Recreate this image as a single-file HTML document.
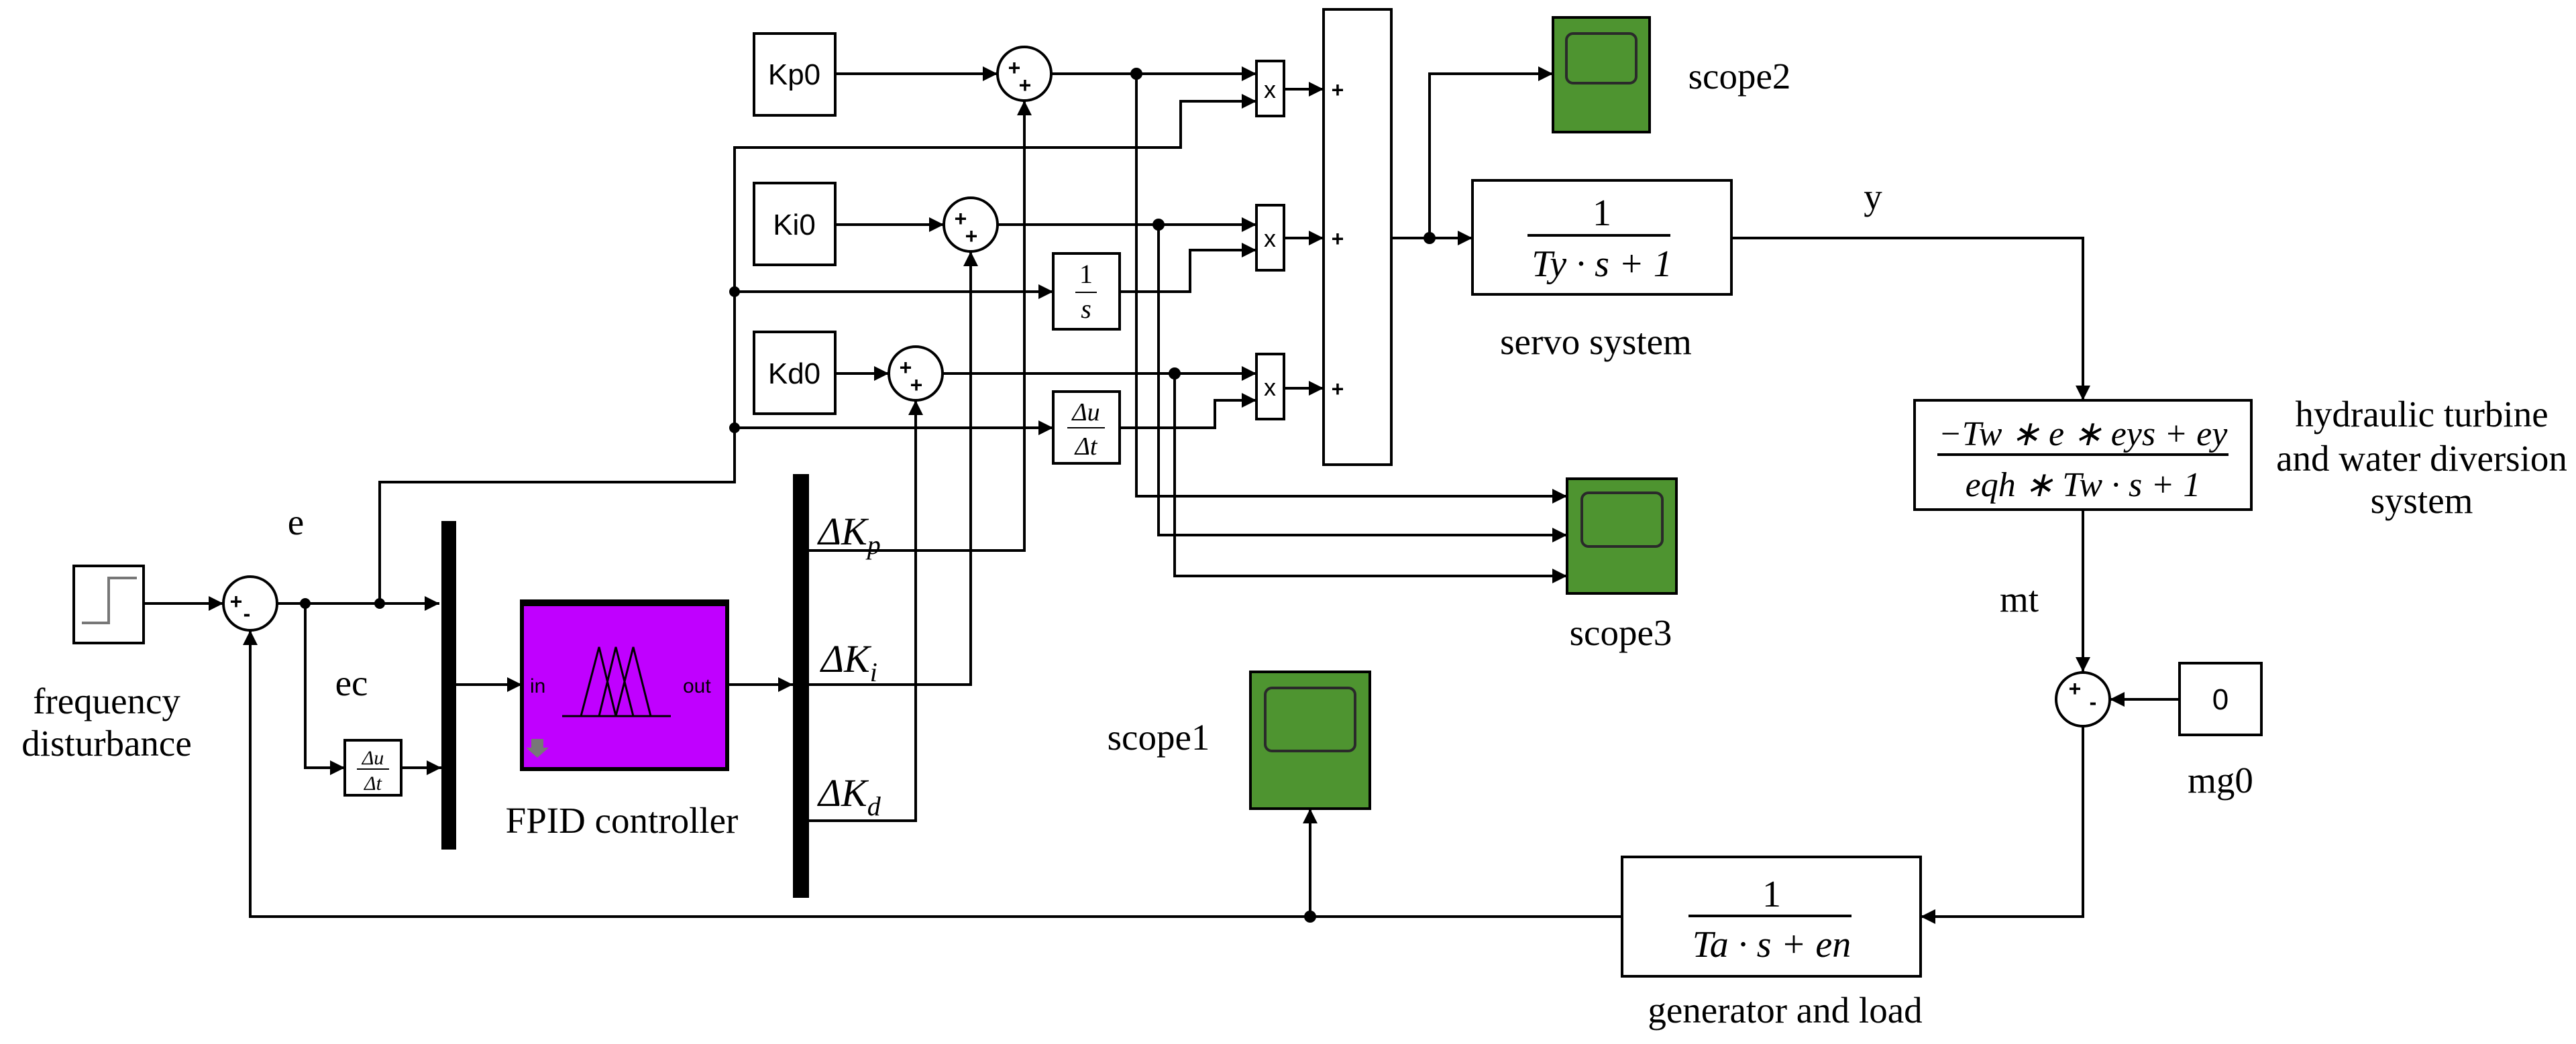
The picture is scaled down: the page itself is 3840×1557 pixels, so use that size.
<!DOCTYPE html>
<html><head><meta charset="utf-8"><style>
html,body{margin:0;padding:0;background:#fff;}
svg{display:block;}
.t{font-family:"Liberation Serif",serif;font-size:55px;fill:#000;}
.s{font-family:"Liberation Sans",sans-serif;fill:#000;}
.m{font-family:"Liberation Serif",serif;font-style:italic;fill:#000;}
</style></head><body>
<svg width="3840" height="1557" viewBox="0 0 3840 1557" xmlns="http://www.w3.org/2000/svg">
<g stroke="#000" stroke-width="4" fill="none">
<polyline points="214,900 333,900"/>
<polyline points="413,900 655,900"/>
<polyline points="566,900 566,719 1095,719 1095,220 1760,220 1760,151 1873,151"/>
<polyline points="1095,435 1570,435"/>
<polyline points="1095,638 1570,638"/>
<polyline points="455,900 455,1145 514,1145"/>
<polyline points="598,1145 658,1145"/>
<polyline points="680,1021 778,1021"/>
<polyline points="1084,1021 1182,1021"/>
<polyline points="1206,821 1527,821 1527,150"/>
<polyline points="1206,1021 1447,1021 1447,375"/>
<polyline points="1206,1224 1365,1224 1365,597"/>
<polyline points="1245,110 1487,110"/>
<polyline points="1567,110 1873,110"/>
<polyline points="1245,335 1407,335"/>
<polyline points="1487,335 1873,335"/>
<polyline points="1245,557 1325,557"/>
<polyline points="1405,557 1873,557"/>
<polyline points="1669,435 1774,435 1774,373 1873,373"/>
<polyline points="1669,638 1811,638 1811,597 1873,597"/>
<polyline points="1694,110 1694,740 2336,740"/>
<polyline points="1727,335 1727,798 2336,798"/>
<polyline points="1751,557 1751,859 2336,859"/>
<polyline points="1914,133 1973,133"/>
<polyline points="1914,355 1973,355"/>
<polyline points="1914,579 1973,579"/>
<polyline points="2075,355 2195,355"/>
<polyline points="2131,355 2131,110 2315,110"/>
<polyline points="2581,355 3105,355 3105,597"/>
<polyline points="3105,760 3105,1002"/>
<polyline points="3249,1043 3145,1043"/>
<polyline points="3105,1084 3105,1367 2863,1367"/>
<polyline points="2418,1367 373,1367 373,940"/>
<polyline points="1953,1367 1953,1206"/>
</g>
<g fill="#000">
<polygon points="333,900 311,889 311,911"/>
<polygon points="655,900 633,889 633,911"/>
<polygon points="1570,435 1548,424 1548,446"/>
<polygon points="1570,638 1548,627 1548,649"/>
<polygon points="514,1145 492,1134 492,1156"/>
<polygon points="658,1145 636,1134 636,1156"/>
<polygon points="778,1021 756,1010 756,1032"/>
<polygon points="1182,1021 1160,1010 1160,1032"/>
<polygon points="1527,150 1516,172 1538,172"/>
<polygon points="1447,375 1436,397 1458,397"/>
<polygon points="1365,597 1354,619 1376,619"/>
<polygon points="1487,110 1465,99 1465,121"/>
<polygon points="1407,335 1385,324 1385,346"/>
<polygon points="1325,557 1303,546 1303,568"/>
<polygon points="1873,110 1851,99 1851,121"/>
<polygon points="1873,151 1851,140 1851,162"/>
<polygon points="1873,335 1851,324 1851,346"/>
<polygon points="1873,373 1851,362 1851,384"/>
<polygon points="1873,557 1851,546 1851,568"/>
<polygon points="1873,597 1851,586 1851,608"/>
<polygon points="1973,133 1951,122 1951,144"/>
<polygon points="1973,355 1951,344 1951,366"/>
<polygon points="1973,579 1951,568 1951,590"/>
<polygon points="2336,740 2314,729 2314,751"/>
<polygon points="2336,798 2314,787 2314,809"/>
<polygon points="2336,859 2314,848 2314,870"/>
<polygon points="2195,355 2173,344 2173,366"/>
<polygon points="2315,110 2293,99 2293,121"/>
<polygon points="3105,597 3094,575 3116,575"/>
<polygon points="3105,1002 3094,980 3116,980"/>
<polygon points="3145,1043 3167,1032 3167,1054"/>
<polygon points="2863,1367 2885,1356 2885,1378"/>
<polygon points="373,940 362,962 384,962"/>
<polygon points="1953,1206 1942,1228 1964,1228"/>
<circle cx="455" cy="900" r="8"/><circle cx="566" cy="900" r="8"/>
<circle cx="1095" cy="435" r="8"/><circle cx="1095" cy="638" r="8"/>
<circle cx="1694" cy="110" r="9"/><circle cx="1727" cy="335" r="9"/><circle cx="1751" cy="557" r="9"/>
<circle cx="2131" cy="355" r="9"/><circle cx="1953" cy="1367" r="9"/>
<rect x="658" y="777" width="22" height="490"/>
<rect x="1182" y="707" width="24" height="632"/>
</g>
<g stroke="#000" stroke-width="4" fill="#fff">
<rect x="110" y="844" width="104" height="115"/>
<rect x="1124" y="50" width="121" height="122"/>
<rect x="1124" y="273" width="121" height="122"/>
<rect x="1124" y="495" width="121" height="122"/>
<rect x="1873" y="91" width="41" height="82"/>
<rect x="1873" y="306" width="41" height="97"/>
<rect x="1873" y="528" width="41" height="97"/>
<rect x="1570" y="378" width="99" height="113"/>
<rect x="1570" y="584" width="99" height="107"/>
<rect x="514" y="1104" width="84" height="82"/>
<rect x="1973" y="14" width="101" height="679"/>
<rect x="2195" y="269" width="386" height="170"/>
<rect x="2854" y="597" width="502" height="163"/>
<rect x="3249" y="989" width="122" height="107"/>
<rect x="2418" y="1278" width="445" height="178"/>
<circle cx="1527" cy="110" r="40"/>
<circle cx="1447" cy="335" r="40"/>
<circle cx="1365" cy="557" r="40"/>
<circle cx="373" cy="900" r="40"/>
<circle cx="3105" cy="1043" r="40"/>
</g>
<polyline points="122,929 162,929 162,862 204,862" stroke="#777" stroke-width="4" fill="none"/>
<rect x="778" y="897" width="306" height="250" fill="#c000ff" stroke="#000" stroke-width="6"/>
<line x1="778" y1="899" x2="1084" y2="899" stroke="#000" stroke-width="10"/>
<g stroke="#000" stroke-width="3" fill="none">
<line x1="838" y1="1068" x2="1000" y2="1068"/>
<polyline points="866,1068 893,965 918,1068"/>
<polyline points="893,1068 918,965 944,1068"/>
<polyline points="918,1068 944,965 970,1068"/>
</g>
<text x="790" y="1033" class="s" font-size="30">in</text>
<text x="1018" y="1033" class="s" font-size="30">out</text>
<polygon points="792,1102 810,1102 810,1115 818,1115 801,1130 784,1115 792,1115" fill="#777"/>
<g stroke="#000" stroke-width="4">
<rect x="2315" y="26" width="144" height="171" fill="#4e9430"/>
<rect x="2336" y="714" width="163" height="171" fill="#4e9430"/>
<rect x="1864" y="1002" width="178" height="204" fill="#4e9430"/>
</g>
<g stroke="#2a2a2a" stroke-width="4" fill="#4e9430">
<rect x="2335" y="50" width="104" height="74" rx="10"/>
<rect x="2358" y="735" width="120" height="80" rx="10"/>
<rect x="1886" y="1026" width="134" height="94" rx="10"/>
</g>
<g class="s" font-size="44" text-anchor="middle">
<text x="1184" y="126">Kp0</text>
<text x="1184" y="350">Ki0</text>
<text x="1184" y="572">Kd0</text>
<text x="3310" y="1058">0</text>
</g>
<g class="s" font-size="36" text-anchor="middle">
<text x="1893" y="146">x</text><text x="1893" y="368">x</text><text x="1893" y="590">x</text>
</g>
<g class="s" font-size="32" font-weight="bold" text-anchor="middle">
<text x="1512" y="112">+</text><text x="1528" y="138">+</text>
<text x="1432" y="337">+</text><text x="1448" y="363">+</text>
<text x="1350" y="559">+</text><text x="1366" y="585">+</text>
<text x="352" y="908">+</text><text x="368" y="926">-</text>
<text x="3093" y="1038">+</text><text x="3120" y="1058">-</text>
<text x="1994" y="145">+</text><text x="1994" y="367">+</text><text x="1994" y="591">+</text>
</g>
<g class="m" text-anchor="middle">
<text x="1619" y="422" font-size="40" font-style="normal">1</text>
<line x1="1603" y1="436" x2="1635" y2="436" stroke="#000" stroke-width="2"/>
<text x="1619" y="474" font-size="40">s</text>
<text x="1619" y="627" font-size="38">Δu</text>
<line x1="1591" y1="638" x2="1647" y2="638" stroke="#000" stroke-width="2"/>
<text x="1619" y="678" font-size="38">Δt</text>
<text x="556" y="1140" font-size="30">Δu</text>
<line x1="532" y1="1147" x2="580" y2="1147" stroke="#000" stroke-width="2"/>
<text x="556" y="1178" font-size="30">Δt</text>
<text x="2388" y="336" font-size="56" font-style="normal">1</text>
<line x1="2277" y1="351" x2="2490" y2="351" stroke="#000" stroke-width="4"/>
<text x="2388" y="412" font-size="56">Ty · s + 1</text>
<text x="3105" y="664" font-size="52">−Tw ∗ e ∗ eys + ey</text>
<line x1="2888" y1="678" x2="3322" y2="678" stroke="#000" stroke-width="4"/>
<text x="3105" y="740" font-size="52">eqh ∗ Tw · s + 1</text>
<text x="2641" y="1352" font-size="56" font-style="normal">1</text>
<line x1="2517" y1="1366" x2="2760" y2="1366" stroke="#000" stroke-width="4"/>
<text x="2641" y="1427" font-size="56">Ta · s + en</text>
</g>
<g class="m" font-size="58" font-style="normal">
<text x="1220" y="812">Δ<tspan font-style="italic">K</tspan><tspan font-style="italic" font-size="40" dy="14">p</tspan></text>
<text x="1224" y="1002">Δ<tspan font-style="italic">K</tspan><tspan font-style="italic" font-size="40" dy="14">i</tspan></text>
<text x="1220" y="1202">Δ<tspan font-style="italic">K</tspan><tspan font-style="italic" font-size="40" dy="14">d</tspan></text>
</g>
<g class="t" text-anchor="middle">
<text x="441" y="797">e</text>
<text x="524" y="1037">ec</text>
<text x="159" y="1064">frequency</text>
<text x="159" y="1127">disturbance</text>
<text x="927" y="1242">FPID controller</text>
<text x="1727" y="1118">scope1</text>
<text x="2416" y="962">scope3</text>
<text x="2593" y="132">scope2</text>
<text x="2792" y="312">y</text>
<text x="2379" y="528">servo system</text>
<text x="3610" y="636">hydraulic turbine</text>
<text x="3610" y="702">and water diversion</text>
<text x="3610" y="765">system</text>
<text x="3010" y="912">mt</text>
<text x="3310" y="1182">mg0</text>
<text x="2661" y="1525">generator and load</text>
</g>
</svg>
</body></html>
